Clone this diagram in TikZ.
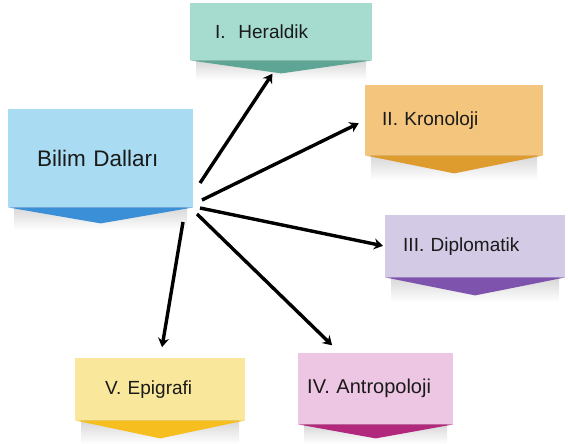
\documentclass[tikz,border=0pt]{standalone}
\usepackage{fontspec}
\setmainfont{Liberation Sans}
\usetikzlibrary{arrows.meta,calc}

\definecolor{bilimacik}{HTML}{A9DCF3}
\definecolor{bilimkoyu}{HTML}{3A8FD6}
\definecolor{heracik}{HTML}{A6DCCF}
\definecolor{herkoyu}{HTML}{5FA595}
\definecolor{kroacik}{HTML}{F4C57C}
\definecolor{krokoyu}{HTML}{DE9B2E}
\definecolor{dipacik}{HTML}{D3CAE6}
\definecolor{dipkoyu}{HTML}{7E53AE}
\definecolor{epiacik}{HTML}{F9E79B}
\definecolor{epikoyu}{HTML}{F6BE1E}
\definecolor{antacik}{HTML}{ECC6E2}
\definecolor{antkoyu}{HTML}{B2287D}
\definecolor{yazi}{HTML}{1A1A1A}

\tikzset{
  kutu/.style={anchor=north west, inner ysep=0pt, align=left, text=yazi,
    font=\fontsize{19}{22}\selectfont},
  ok/.style={line width=3.4pt, -{Stealth[length=9pt,width=11pt]}},
  golge/.style={top color=black!16, bottom color=white},
}

\begin{document}
\begin{tikzpicture}[x=1pt,y=1pt,yscale=-1,xscale=1]
		\useasboundingbox (0,0) rectangle (568,444);
		
		% Box: Bilim Dallari
		\shade[golge] (14,207) rectangle (187,230);
		\node[kutu, fill=bilimacik, minimum width=185pt, minimum height=98pt, text width=127pt, inner xsep=29pt, font=\fontsize{22.5}{26}\selectfont] (bilim) at (8,109) {Bilim Dalları};
		\fill[bilimkoyu] (bilim.south west) -- (bilim.south east) -- ($(bilim.south)+(0,16)$) -- cycle;
		
		% Box: Heraldik
		\shade[golge] (196,60) rectangle (366,80);
		\node[kutu, fill=heracik, minimum width=182pt, minimum height=57pt, text width=132pt, inner xsep=25pt] (her) at (190,3) {I.\ \ Heraldik};
		\fill[herkoyu] (her.south west) -- (her.south east) -- ($(her.south)+(0,13)$) -- cycle;
		
		% Box: Kronoloji
		\shade[golge] (371,155) rectangle (537,180);
		\node[kutu, fill=kroacik, minimum width=178pt, minimum height=70pt, text width=144pt, inner xsep=17pt] (kro) at (365,85) {II. Kronoloji};
		\fill[krokoyu] (kro.south west) -- (kro.south east) -- ($(kro.south)+(0,18)$) -- cycle;
		
		% Box: Diplomatik
		\shade[golge] (391,277) rectangle (559,302);
		\node[kutu, fill=dipacik, minimum width=180pt, minimum height=62pt, text width=144pt, inner xsep=18pt] (dip) at (385,215) {III. Diplomatik};
		\fill[dipkoyu] (dip.south west) -- (dip.south east) -- ($(dip.south)+(0,18)$) -- cycle;
		
		% Box: Epigrafi
		\shade[golge] (81,420) rectangle (239,444);
		\node[kutu, fill=epiacik, minimum width=170pt, minimum height=62pt, text width=110pt, inner xsep=30pt] (epi) at (75,358) {V. Epigrafi};
		\fill[epikoyu] (epi.south west) -- (epi.south east) -- ($(epi.south)+(0,18)$) -- cycle;
		
		% Box: Antropoloji
		\shade[golge] (304,424) rectangle (447,444);
		\node[kutu, fill=antacik, minimum width=155pt, minimum height=71pt, text width=137pt, inner xsep=9pt, font=\fontsize{20}{24}\selectfont] (ant) at (298,353) {IV. Antropoloji};
		\fill[antkoyu] (ant.south west) -- (ant.south east) -- ($(ant.south)+(0,14)$) -- cycle;
		
		% Arrows from the hub
		\coordinate (h1) at (200,183);
		\coordinate (h2) at (202,200);
		\coordinate (h3) at (200,208);
		\coordinate (h4) at (197,214);
		\coordinate (h5) at (183,222);
		\draw[ok, shorten >=16pt] (h1) -- (her.south);
		\draw[ok, shorten >=7pt] (h2) -- (kro.west);
		\draw[ok, shorten >=2pt] (h3) -- (dip.west);
		\draw[ok, shorten >=11pt] (h4) -- ([xshift=42pt]ant.north west);
		\draw[ok, shorten >=11pt] (h5) -- (epi.north);
		
\end{tikzpicture}
\end{document}
